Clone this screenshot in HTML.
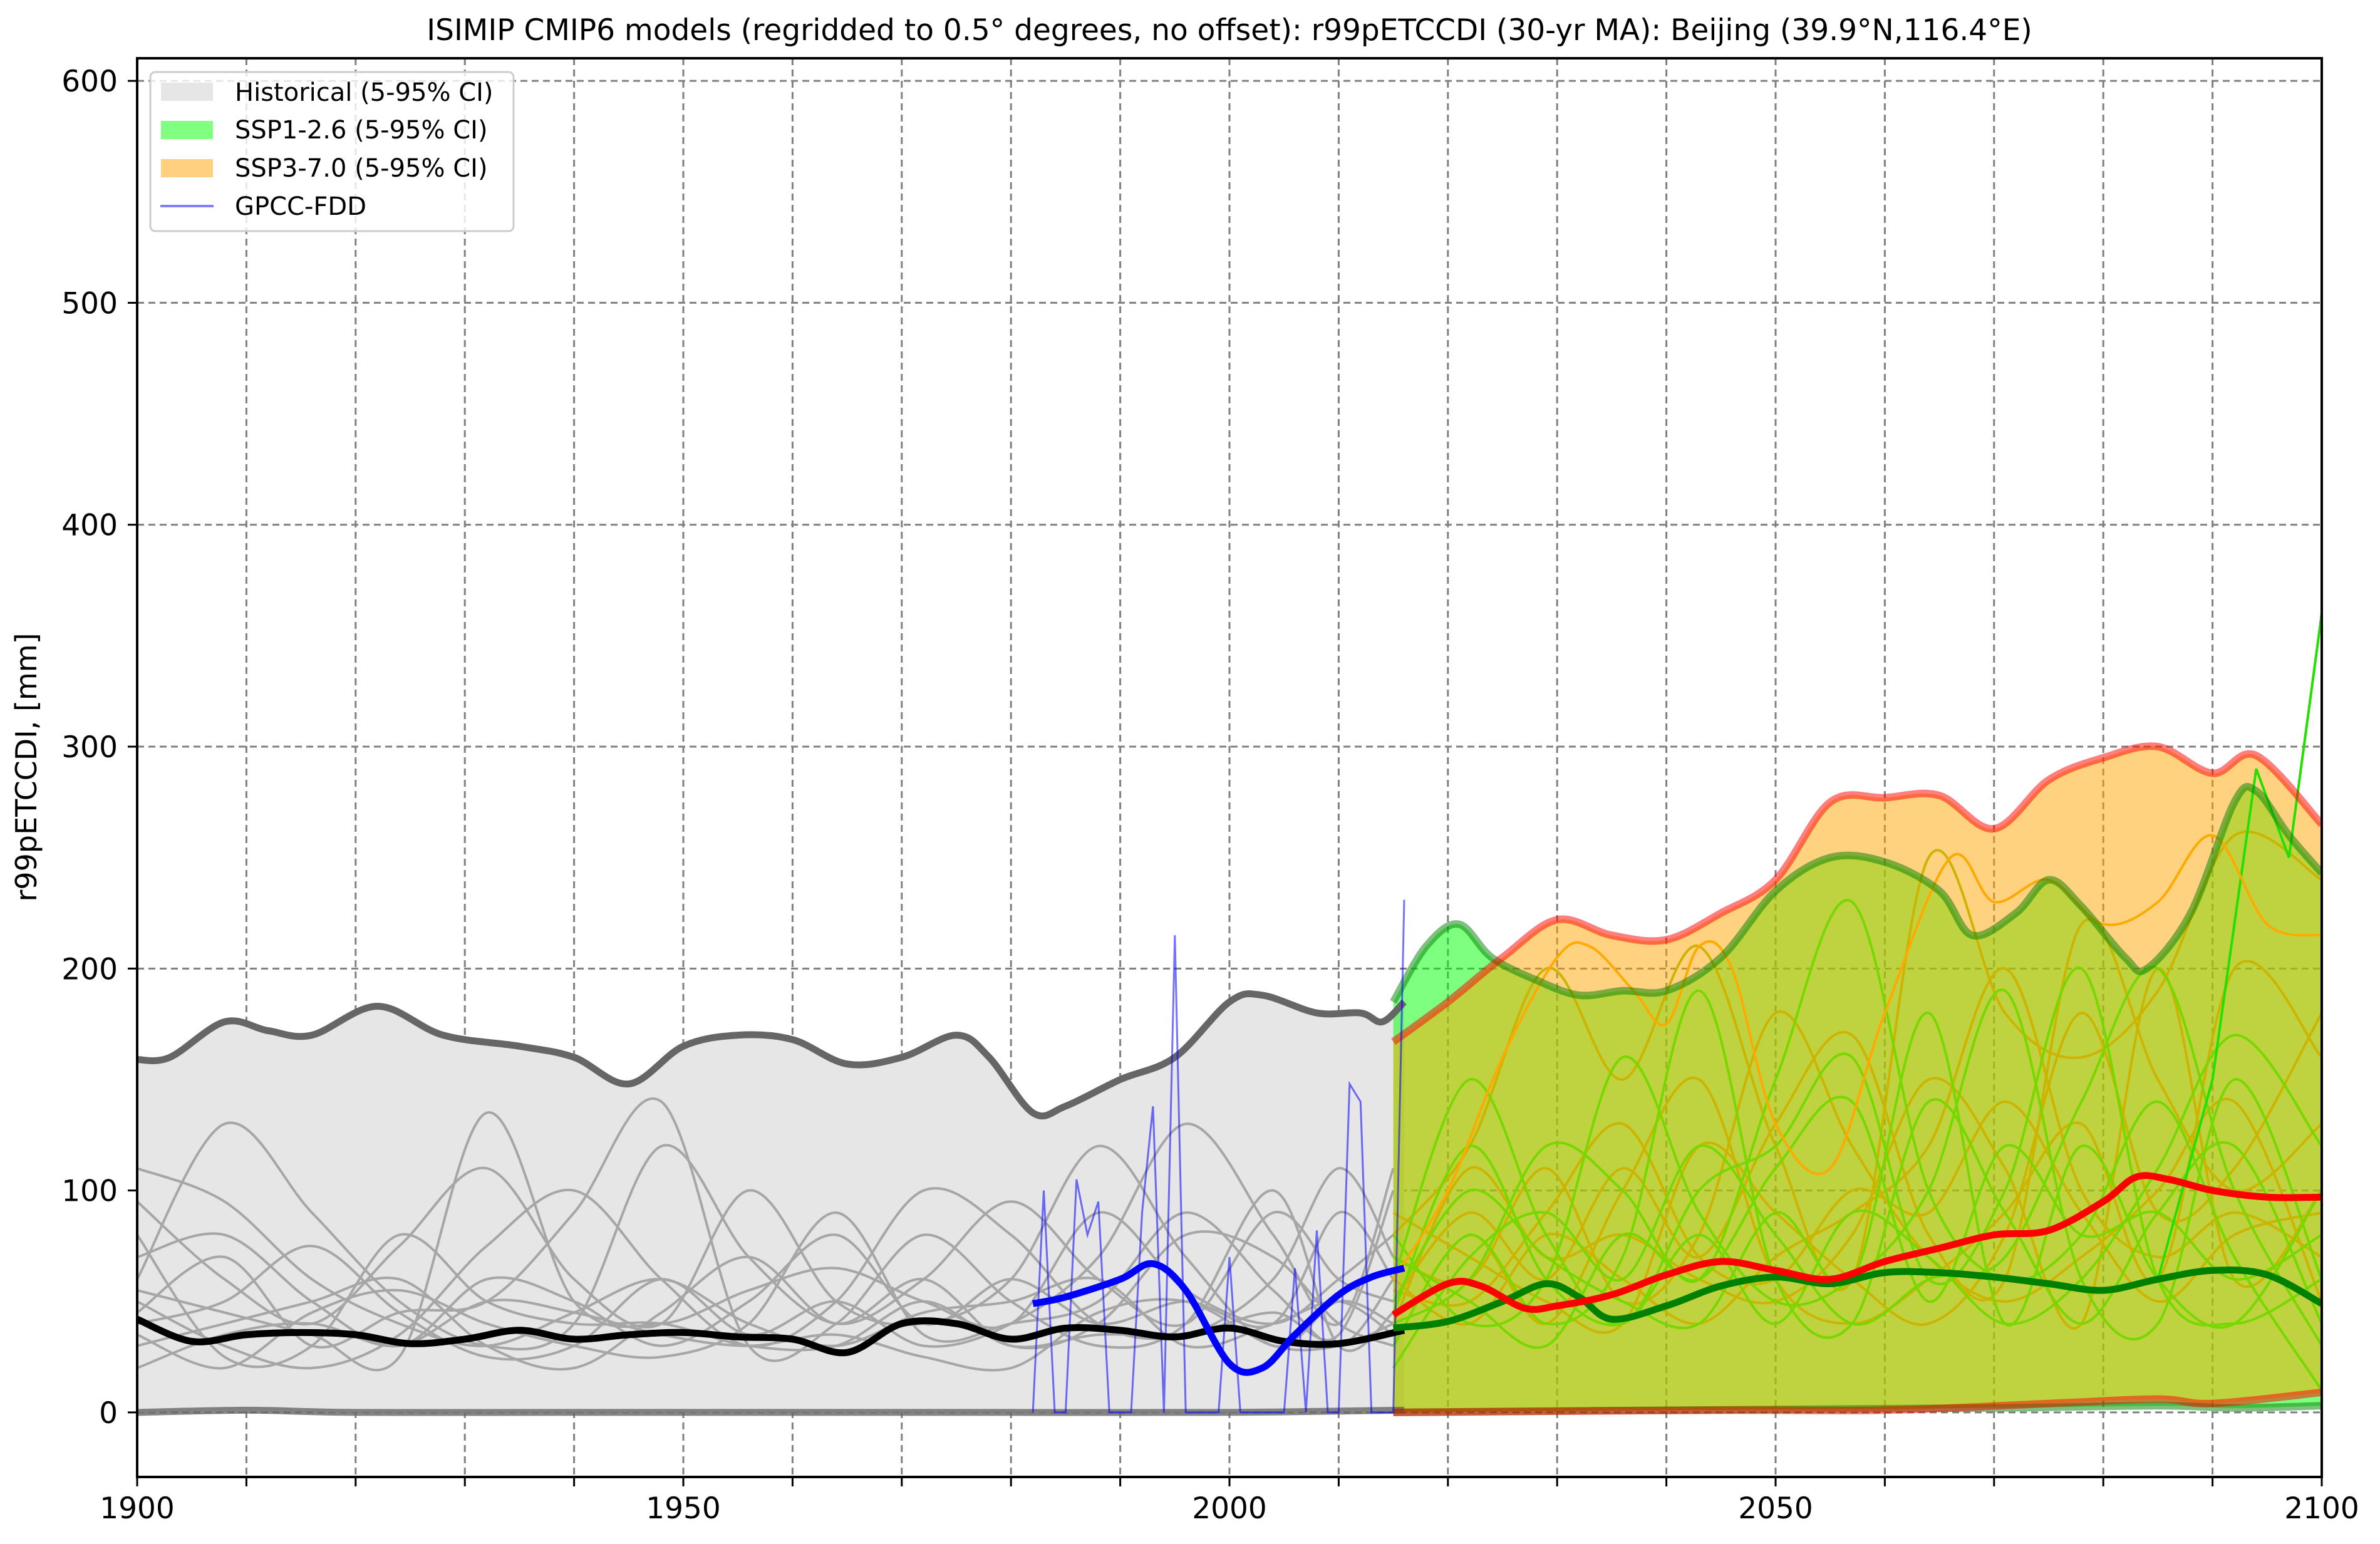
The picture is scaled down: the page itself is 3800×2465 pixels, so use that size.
<!DOCTYPE html>
<html><head><meta charset="utf-8"><style>
html,body{margin:0;padding:0;background:#fff;}
svg{display:block;font-family:"DejaVu Sans","Liberation Sans",sans-serif;}
</style></head><body>
<svg id="chart" xmlns="http://www.w3.org/2000/svg" width="3800" height="2465" viewBox="0 0 3800 2465">
<rect width="3800" height="2465" fill="#fff"/>
<defs><clipPath id="plotclip"><rect x="219" y="93" width="3488" height="2265"/></clipPath></defs>
<text x="1963" y="64" font-size="47" text-anchor="middle">ISIMIP CMIP6 models (regridded to 0.5° degrees, no offset): r99pETCCDI (30-yr MA): Beijing (39.9°N,116.4°E)</text>
<text x="0" y="0" font-size="46" text-anchor="middle" transform="translate(58,1225) rotate(-90)">r99pETCCDI, [mm]</text>
<g id="grid"></g>
<g id="plot" clip-path="url(#plotclip)"></g>
<g id="axes"></g>
<g id="legend">
<rect x="240" y="115" width="580" height="254" rx="8" fill="#fff" fill-opacity="0.8" stroke="#ccc" stroke-width="3"/>
<g><rect x="257" y="132" width="83" height="29" fill="#e6e6e6"/><text x="375" y="161" font-size="40">Historical (5-95% CI)</text></g>
<g><rect x="257" y="193" width="83" height="29" fill="#80ff80"/><text x="375" y="221" font-size="40">SSP1-2.6 (5-95% CI)</text></g>
<g><rect x="257" y="254" width="83" height="29" fill="#ffd080"/><text x="375" y="282" font-size="40">SSP3-7.0 (5-95% CI)</text></g>
<g><line x1="256" y1="329" x2="341" y2="329" stroke="#7f7fff" stroke-width="4"/><text x="375" y="343" font-size="40">GPCC-FDD</text></g>
</g>
</svg>
<script>
// ---- data ----
const xTicks=[1900,1950,2000,2050,2100];
const yTicks=[0,100,200,300,400,500,600];
const histYears=[1900,1903,1908,1912,1916,1922,1928,1935,1940,1945,1950,1955,1960,1965,1970,1975,1978,1982,1985,1990,1995,2000,2003,2008,2012,2014,2016];
const histUpper=[159,160,176,172,170,183,170,165,160,148,165,170,168,157,160,170,160,135,138,150,160,185,188,180,180,176,185];
const histLowerYears=[1900,1910,1920,1940,1960,1980,2000,2016];
const histLower=[0,1,0,0,0,0,0,1];
const meanYears=[1900,1905,1910,1915,1920,1925,1930,1935,1940,1945,1950,1955,1960,1965,1970,1975,1980,1985,1990,1995,2000,2005,2010,2016];
const histMean=[42,32,35,36,35,31,33,37,33,35,36,34,33,27,40,40,33,38,37,34,38,32,31,37];
const gpccYears=[1982,1983,1984,1985,1986,1987,1988,1989,1990,1991,1992,1993,1994,1995,1996,1997,1998,1999,2000,2001,2002,2003,2004,2005,2006,2007,2008,2009,2010,2011,2012,2013,2014,2015,2016];
const gpccRaw=[0,100,0,0,105,80,95,0,0,0,90,138,0,215,0,0,0,0,70,0,0,0,0,0,65,0,82,0,0,148,140,0,0,0,231];
const gpccSmYears=[1982,1985,1990,1993,1996,2000,2003,2006,2010,2013,2016];
const gpccSmooth=[49,52,60,67,55,22,20,35,53,61,65];
const futYears=[2015,2018,2021,2024,2028,2032,2036,2040,2045,2050,2055,2060,2065,2068,2072,2075,2078,2082,2084,2088,2092,2094,2097,2100];
const ssp1Upper=[185,210,220,205,195,188,190,190,205,235,250,248,235,215,225,240,228,205,200,225,275,280,260,243];
const ssp3Years=[2015,2020,2025,2030,2035,2040,2045,2050,2055,2060,2065,2070,2075,2080,2085,2090,2094,2100];
const ssp3Upper=[167,185,205,222,215,213,225,240,275,277,278,263,285,295,300,288,296,265];
const ssp1LowerYears=[2015,2040,2070,2085,2092,2100];
const ssp1Lower=[0,1,2,3,2,3];
const ssp3Lower=[0,1,1,4,6,4,9];
const ssp3LowerYears=[2015,2045,2060,2075,2085,2090,2100];
const ssp1MeanYears=[2015,2020,2025,2029,2032,2035,2040,2045,2050,2055,2060,2065,2070,2075,2080,2085,2090,2095,2100];
const ssp1Mean=[38,41,50,58,52,42,48,57,61,58,63,63,61,58,55,60,64,62,49];
const ssp3MeanYears=[2015,2020,2023,2027,2030,2035,2040,2045,2050,2055,2060,2065,2070,2075,2080,2083,2086,2090,2095,2100];
const ssp3Mean=[44,58,57,47,48,53,62,68,64,60,68,74,80,82,95,106,105,100,97,97];
// individual model runs
const histRunYears=[1900,1908,1916,1924,1932,1940,1948,1956,1964,1972,1980,1988,1996,2004,2010,2015];
const histRuns=[
[110,95,60,40,30,45,60,40,30,45,50,60,30,40,50,35],
[60,130,90,50,30,40,120,70,40,60,30,40,80,70,40,30],
[50,30,20,35,75,100,60,30,50,100,80,40,35,60,110,70],
[95,60,40,75,110,60,40,100,50,40,60,120,70,30,50,40],
[40,50,75,45,25,30,60,35,50,30,40,70,130,80,40,110],
[70,80,50,30,60,50,30,50,80,40,60,40,50,40,90,60],
[30,40,50,60,30,20,45,70,40,60,95,60,40,90,60,50],
[55,45,35,25,135,50,40,55,65,50,40,90,55,40,60,80],
[80,25,30,80,50,40,40,30,30,50,30,35,35,45,35,100],
[45,70,30,45,50,90,140,30,40,80,50,30,40,100,30,45],
[35,20,45,55,40,30,25,40,90,35,40,50,90,55,30,60],
[20,35,40,30,50,45,35,30,35,25,20,45,50,30,30,40]
];
const futRunYears=[2015,2022,2029,2036,2043,2050,2057,2064,2071,2078,2085,2092,2100];
const futGreenRuns=[
[60,150,80,40,100,120,160,60,100,200,60,40,60],
[30,80,40,70,190,60,40,140,90,40,90,120,40],
[40,60,120,100,60,150,230,100,60,80,140,70,10],
[80,40,60,160,90,50,60,100,190,60,40,150,60],
[50,100,70,50,40,90,60,180,40,120,60,40,100],
[20,70,90,60,120,80,40,60,70,140,200,100,30],
[70,50,30,80,60,110,140,50,120,80,90,60,80],
[45,120,60,40,80,40,90,70,40,60,110,170,120]
];
const spikeYears=[2085,2090,2094,2097,2100];
const spikeRun=[60,150,290,250,360];
const futGoldRuns=[
[80,120,200,150,210,120,60,250,180,160,190,260,240],
[50,90,60,110,70,130,170,80,60,220,150,100,130],
[60,40,80,60,40,70,90,120,200,100,70,90,70],
[30,80,40,100,150,60,40,60,90,130,60,200,160],
[70,60,110,50,80,180,120,70,50,70,100,140,50],
[40,110,70,80,60,50,80,150,110,40,200,60,100],
[90,70,50,40,120,90,60,40,80,180,90,110,180],
[55,50,90,130,70,60,100,90,140,90,50,80,90]
];
const futOrangeYears=[2015,2020,2025,2030,2033,2037,2040,2043,2046,2050,2055,2060,2066,2070,2075,2080,2085,2090,2095,2100];
const futOrange=[60,100,160,205,210,190,175,210,200,130,110,180,250,230,240,220,230,260,220,215];
// ---- scales ----
const X0=219,X1=3707,YT=93,YB=2358,VMIN=-29.1,VMAX=610.2;
const sx=v=>X0+(v-1900)/(2100-1900)*(X1-X0);
const sy=v=>YB-(v-VMIN)/(VMAX-VMIN)*(YB-YT);
const NS='http://www.w3.org/2000/svg';
function mk(tag,attrs,parent){const e=document.createElementNS(NS,tag);for(const k in attrs)e.setAttribute(k,attrs[k]);parent.appendChild(e);return e;}
function smoothD(xs,ys,move){
  const p=xs.map((x,i)=>[sx(x),sy(ys[i])]);
  let d=(move?'M':'L')+p[0][0].toFixed(1)+','+p[0][1].toFixed(1);
  for(let i=0;i<p.length-1;i++){
    const a=p[i-1]||p[i],b=p[i],c=p[i+1],e=p[i+2]||c;
    const c1=[b[0]+(c[0]-a[0])/6,b[1]+(c[1]-a[1])/6],c2=[c[0]-(e[0]-b[0])/6,c[1]-(e[1]-b[1])/6];
    d+='C'+c1[0].toFixed(1)+','+c1[1].toFixed(1)+' '+c2[0].toFixed(1)+','+c2[1].toFixed(1)+' '+c[0].toFixed(1)+','+c[1].toFixed(1);
  }
  return d;
}
function lineD(xs,ys){return xs.map((x,i)=>(i?'L':'M')+sx(x).toFixed(1)+','+sy(ys[i]).toFixed(1)).join('');}
function bandD(ux,uy,lx,ly){return smoothD(ux,uy,true)+smoothD(lx.slice().reverse(),ly.slice().reverse(),false)+'Z';}
const plot=document.getElementById('plot'),grid=document.getElementById('grid'),axes=document.getElementById('axes');
for(let y=1910;y<2100;y+=10){
  const g=mk('line',{x1:sx(y),x2:sx(y),y1:YT,y2:YB,stroke:'#808080','stroke-width':3,'stroke-dasharray':'11 7'},grid);
  
  
}
yTicks.forEach(v=>{
  const g=mk('line',{x1:X0,x2:X1,y1:sy(v),y2:sy(v),stroke:'#808080','stroke-width':3,'stroke-dasharray':'11 7'},grid);
  
  
});
let e=mk('path',{d:bandD(histYears,histUpper,histLowerYears,histLower),fill:'#e6e6e6'},plot);


histRuns.forEach(r=>{
  const l=mk('path',{d:smoothD(histRunYears,r,true),fill:'none',stroke:'#a6a6a6','stroke-width':4},plot);
  
  
});
e=mk('path',{d:bandD(futYears,ssp1Upper,ssp1LowerYears,ssp1Lower),fill:'#00ff00','fill-opacity':0.5},plot);


e=mk('path',{d:bandD(ssp3Years,ssp3Upper,ssp3LowerYears,ssp3Lower),fill:'#ffa500','fill-opacity':0.5},plot);


futGoldRuns.forEach(r=>{
  const l=mk('path',{d:smoothD(futRunYears,r,true),fill:'none',stroke:'#ccb400','stroke-width':4},plot);
  
  
});
futGreenRuns.forEach(r=>{
  const l=mk('path',{d:smoothD(futRunYears,r,true),fill:'none',stroke:'#77d800','stroke-width':4},plot);
  
  
});
e=mk('path',{d:lineD(spikeYears,spikeRun),fill:'none',stroke:'#22e000','stroke-width':4},plot);


e=mk('path',{d:smoothD(futOrangeYears,futOrange,true),fill:'none',stroke:'#ffaa00','stroke-width':4},plot);


e=mk('path',{d:smoothD(histYears,histUpper,true),fill:'none',stroke:'#666','stroke-width':11},plot);


e=mk('path',{d:smoothD(histLowerYears,histLower,true),fill:'none',stroke:'#666','stroke-width':11,'stroke-opacity':0.8},plot);


e=mk('path',{d:smoothD(futYears,ssp1Upper,true),fill:'none',stroke:'#008000','stroke-width':12,'stroke-opacity':0.5},plot);


e=mk('path',{d:smoothD(ssp1LowerYears,ssp1Lower,true),fill:'none',stroke:'#008000','stroke-width':12,'stroke-opacity':0.5},plot);


e=mk('path',{d:smoothD(ssp3Years,ssp3Upper,true),fill:'none',stroke:'#ff0000','stroke-width':12,'stroke-opacity':0.5},plot);


e=mk('path',{d:smoothD(ssp3LowerYears,ssp3Lower,true),fill:'none',stroke:'#ff0000','stroke-width':12,'stroke-opacity':0.5},plot);


e=mk('path',{d:lineD(gpccYears,gpccRaw),fill:'none',stroke:'#0000ff','stroke-width':3,'stroke-opacity':0.55},plot);


e=mk('path',{d:smoothD(meanYears,histMean,true),fill:'none',stroke:'#000','stroke-width':11},plot);


e=mk('path',{d:smoothD(ssp1MeanYears,ssp1Mean,true),fill:'none',stroke:'#008000','stroke-width':11},plot);


e=mk('path',{d:smoothD(ssp3MeanYears,ssp3Mean,true),fill:'none',stroke:'#ff0000','stroke-width':11},plot);


e=mk('path',{d:smoothD(gpccSmYears,gpccSmooth,true),fill:'none',stroke:'#0000ff','stroke-width':11},plot);


e=mk('rect',{x:X0,y:YT,width:X1-X0,height:YB-YT,fill:'none',stroke:'#000','stroke-width':4},axes);


for(let y=1900;y<=2100;y+=10){
  const t=mk('line',{x1:sx(y),x2:sx(y),y1:YB,y2:YB+15,stroke:'#000','stroke-width':3},axes);
  
  
}
xTicks.forEach(v=>{
  const t=mk('text',{x:sx(v),y:2424,'font-size':47,'text-anchor':'middle'},axes);
  t.textContent=v;
  
  
});
yTicks.forEach(v=>{
  const k=mk('line',{x1:X0-15,x2:X0,y1:sy(v),y2:sy(v),stroke:'#000','stroke-width':3},axes);
  
  
  const t=mk('text',{x:188,y:sy(v)+17,'font-size':47,'text-anchor':'end'},axes);
  t.textContent=v;
  
  
});
</script>
</body></html>
